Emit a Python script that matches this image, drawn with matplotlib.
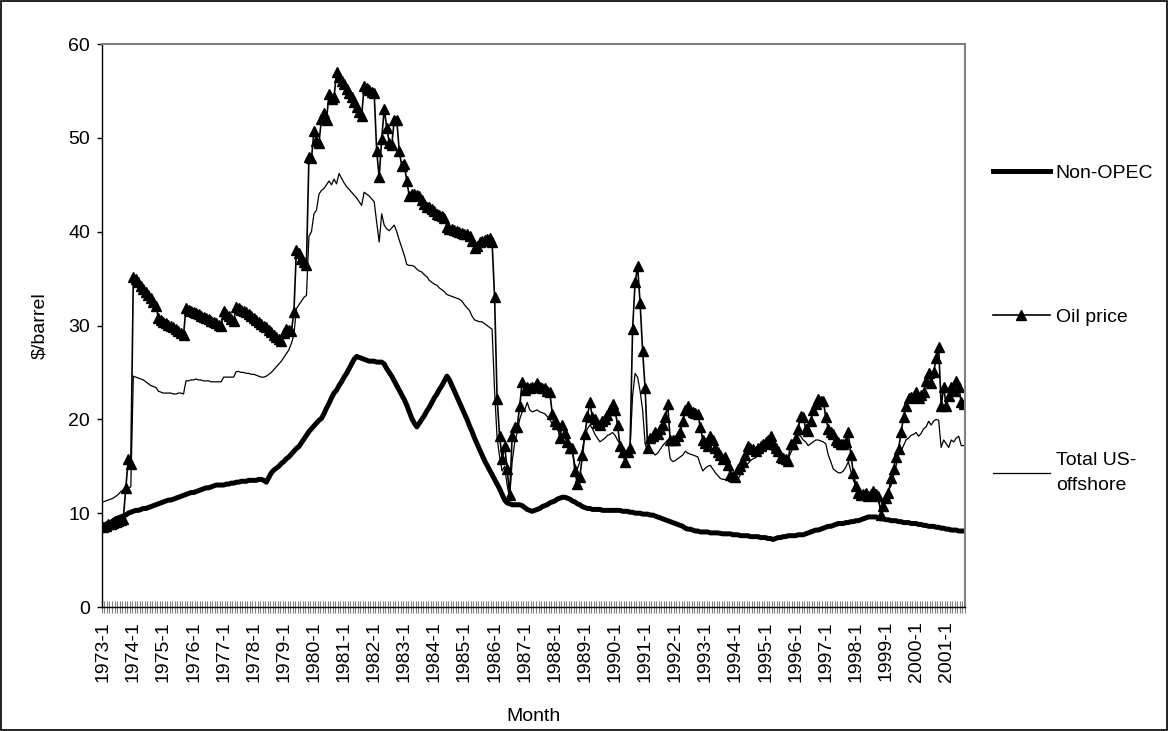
"""Oil price vs. non-OPEC and US offshore costs, monthly 1973-2001."""

import numpy as np
import matplotlib

matplotlib.use("Agg")
import matplotlib.pyplot as plt
from matplotlib.patches import Rectangle

FIRST_YEAR = 1973

# $/barrel, one row per year (Jan..Dec), 2001 ends in August
non_opec = [
    8.7, 8.8, 8.9, 9.0, 9.2, 9.4, 9.5, 9.6, 9.7, 9.8, 10.0, 10.1,
    10.2, 10.3, 10.3, 10.4, 10.5, 10.5, 10.6, 10.7, 10.8, 10.9, 11.0, 11.1,
    11.2, 11.3, 11.4, 11.4, 11.5, 11.6, 11.7, 11.8, 11.9, 12.0, 12.1, 12.2,
    12.2, 12.3, 12.4, 12.5, 12.6, 12.7, 12.7, 12.8, 12.9, 13.0, 13.0, 13.0,
    13.0, 13.1, 13.1, 13.2, 13.2, 13.3, 13.3, 13.4, 13.4, 13.4, 13.5, 13.5,
    13.5, 13.5, 13.6, 13.6, 13.5, 13.3, 13.8, 14.3, 14.6, 14.8, 15.0, 15.3,
    15.5, 15.8, 16.0, 16.3, 16.6, 16.9, 17.1, 17.5, 17.9, 18.3, 18.7, 19.0,
    19.3, 19.6, 19.9, 20.1, 20.6, 21.2, 21.7, 22.3, 22.8, 23.1, 23.6, 24.0,
    24.5, 24.9, 25.4, 25.9, 26.4, 26.7, 26.6, 26.5, 26.4, 26.3, 26.2, 26.2,
    26.2, 26.1, 26.1, 26.1, 25.9, 25.4, 25.0, 24.6, 24.1, 23.6, 23.1, 22.6,
    22.1, 21.5, 20.8, 20.1, 19.6, 19.2, 19.6, 20.0, 20.4, 20.9, 21.3, 21.8,
    22.3, 22.7, 23.2, 23.6, 24.1, 24.6, 24.2, 23.6, 23.0, 22.4, 21.8, 21.2,
    20.6, 20.0, 19.3, 18.7, 18.0, 17.4, 16.8, 16.2, 15.6, 15.1, 14.6, 14.1,
    13.6, 13.1, 12.6, 12.0, 11.4, 11.1, 11.0, 10.9, 10.9, 10.9, 10.9, 10.8,
    10.6, 10.4, 10.3, 10.2, 10.3, 10.4, 10.5, 10.7, 10.8, 10.9, 11.1, 11.2,
    11.3, 11.5, 11.6, 11.7, 11.7, 11.6, 11.5, 11.3, 11.2, 11.0, 10.9, 10.7,
    10.6, 10.5, 10.5, 10.4, 10.4, 10.4, 10.4, 10.3, 10.3, 10.3, 10.3, 10.3,
    10.3, 10.3, 10.3, 10.2, 10.2, 10.2, 10.1, 10.1, 10.0, 10.0, 10.0, 9.9,
    9.9, 9.9, 9.8, 9.8, 9.7, 9.6, 9.5, 9.4, 9.3, 9.2, 9.1, 9.0,
    8.9, 8.8, 8.7, 8.6, 8.4, 8.3, 8.3, 8.2, 8.1, 8.1, 8.0, 8.0,
    8.0, 8.0, 7.9, 7.9, 7.9, 7.9, 7.85, 7.8, 7.8, 7.8, 7.8, 7.7,
    7.7, 7.7, 7.6, 7.6, 7.6, 7.6, 7.5, 7.5, 7.5, 7.5, 7.4, 7.4,
    7.4, 7.3, 7.3, 7.2, 7.3, 7.4, 7.4, 7.5, 7.5, 7.6, 7.6, 7.6,
    7.6, 7.7, 7.7, 7.7, 7.8, 7.9, 8.0, 8.1, 8.2, 8.2, 8.3, 8.4,
    8.5, 8.6, 8.6, 8.7, 8.8, 8.9, 8.9, 8.9, 9.0, 9.0, 9.1, 9.1,
    9.2, 9.2, 9.3, 9.4, 9.5, 9.6, 9.6, 9.6, 9.6, 9.5, 9.4, 9.4,
    9.3, 9.3, 9.2, 9.2, 9.2, 9.1, 9.1, 9.0, 9.0, 9.0, 8.9, 8.9,
    8.9, 8.8, 8.8, 8.7, 8.7, 8.6, 8.6, 8.6, 8.5, 8.5, 8.4, 8.4,
    8.3, 8.3, 8.2, 8.2, 8.2, 8.1, 8.1, 8.1,
]

oil_price = [
    8.5, 8.6, 8.8, 8.9, 9.0, 9.1, 9.2, 9.3, 9.4, 12.7, 15.8, 15.2,
    35.2, 35.0, 34.6, 34.2, 33.9, 33.6, 33.2, 32.9, 32.5, 32.1, 30.8, 30.6,
    30.4, 30.3, 30.1, 29.9, 29.8, 29.6, 29.4, 29.2, 29.0, 31.9, 31.7, 31.5,
    31.4, 31.3, 31.2, 31.0, 30.9, 30.8, 30.7, 30.5, 30.4, 30.3, 30.1, 30.0,
    31.5, 31.2, 31.0, 30.7, 30.5, 32.0, 31.9, 31.7, 31.5, 31.4, 31.2, 31.0,
    30.8, 30.6, 30.4, 30.2, 30.0, 29.8, 29.5, 29.3, 29.0, 28.8, 28.6, 28.4,
    29.2, 29.6, 29.5, 29.4, 31.4, 38.1, 37.7, 37.1, 36.8, 36.5, 48.0, 47.8,
    50.7, 49.7, 49.5, 52.0, 52.7, 51.9, 54.7, 54.1, 54.3, 57.0, 56.5, 56.1,
    55.7, 55.2, 54.8, 54.3, 53.8, 53.3, 52.8, 52.3, 55.5, 55.3, 55.1, 54.9,
    54.8, 48.6, 45.8, 49.9, 53.1, 51.1, 49.5, 49.2, 51.9, 51.9, 48.6, 47.0,
    47.2, 45.4, 43.8, 44.0, 44.0, 43.9, 43.8, 43.4, 43.0, 42.6, 42.6, 42.4,
    42.2, 41.9, 41.8, 41.7, 41.5, 40.5, 40.3, 40.3, 40.2, 40.1, 40.0, 39.9,
    39.8, 39.7, 39.5, 39.0, 38.3, 38.5, 38.9, 39.0, 39.1, 39.2, 39.3, 38.9,
    33.0, 22.2, 18.2, 15.8, 17.2, 14.7, 11.9, 18.2, 19.2, 19.2, 21.4, 24.0,
    23.1, 23.4, 23.3, 23.5, 23.4, 23.9, 23.5, 23.3, 23.3, 23.0, 22.9, 20.6,
    19.8, 19.5, 18.0, 19.4, 18.5, 17.6, 17.0, 17.0, 14.5, 13.1, 13.9, 16.2,
    18.4, 20.4, 21.8, 20.2, 20.0, 19.6, 19.4, 19.8, 20.0, 20.5, 21.0, 21.6,
    21.0, 19.4, 17.2, 16.5, 15.5, 16.5, 17.0, 29.6, 34.6, 36.3, 32.4, 27.3,
    23.3, 17.0, 18.0, 18.2, 18.6, 18.4, 19.0, 19.4, 20.2, 21.6, 17.8, 17.8,
    17.8, 18.2, 18.6, 19.8, 21.0, 21.4, 21.0, 20.8, 20.7, 20.6, 19.2, 17.8,
    17.5, 17.2, 18.2, 17.8, 17.0, 16.5, 16.2, 15.8, 16.0, 15.1, 14.1, 14.0,
    13.9, 14.7, 15.0, 15.5, 16.2, 17.2, 17.0, 16.8, 16.6, 17.0, 17.2, 17.4,
    17.6, 17.8, 18.2, 17.4, 17.0, 16.6, 16.0, 15.9, 15.8, 15.6, 17.4, 17.4,
    18.0, 19.0, 20.4, 20.2, 19.0, 18.8, 19.8, 21.0, 21.6, 22.2, 22.0, 22.0,
    20.2, 19.0, 18.6, 18.4, 17.8, 17.6, 17.4, 17.4, 17.6, 18.6, 16.2, 14.3,
    12.9, 12.2, 11.9, 12.0, 12.2, 11.8, 12.0, 12.4, 12.0, 11.8, 9.8, 10.8,
    11.6, 12.1, 13.7, 14.7, 16.0, 16.8, 18.6, 20.2, 21.4, 22.3, 22.4, 22.5,
    22.9, 22.3, 22.6, 22.9, 24.1, 24.9, 23.9, 25.0, 26.5, 27.7, 21.4, 23.5,
    21.4, 22.5, 23.5, 23.0, 24.1, 23.5, 21.8, 21.6,
]

us_offshore = [
    11.2, 11.3, 11.4, 11.5, 11.6, 11.8, 12.0, 12.3, 12.5, 12.6, 12.7, 12.8,
    24.6, 24.5, 24.4, 24.3, 24.2, 24.0, 23.8, 23.6, 23.5, 23.4, 23.0, 22.9,
    22.8, 22.8, 22.8, 22.8, 22.7, 22.7, 22.8, 22.8, 22.7, 24.1, 24.1, 24.2,
    24.2, 24.3, 24.2, 24.2, 24.1, 24.1, 24.1, 24.0, 24.0, 24.0, 24.0, 24.0,
    24.5, 24.5, 24.5, 24.5, 24.5, 25.1, 25.1, 25.0, 25.0, 24.9, 24.9, 24.8,
    24.8, 24.7, 24.6, 24.5, 24.5, 24.6, 24.8, 25.0, 25.3, 25.6, 25.9, 26.2,
    26.6, 27.0, 27.4, 28.1, 29.0, 31.8, 32.2, 32.6, 33.0, 33.2, 39.5, 40.0,
    41.9, 42.3, 44.0, 44.4, 44.6, 45.0, 45.4, 45.0, 45.6, 45.1, 46.2, 45.7,
    45.2, 44.8, 44.5, 44.2, 43.9, 43.6, 43.2, 42.8, 44.2, 44.0, 43.8, 43.5,
    43.2, 41.0, 38.9, 41.9, 40.7, 40.3, 40.1, 40.4, 40.7, 40.0, 39.1, 38.3,
    37.5, 36.5, 36.4, 36.4, 36.3, 36.0, 35.8, 35.7, 35.4, 35.2, 34.8, 34.6,
    34.4, 34.3, 34.0, 33.8, 33.6, 33.3, 33.2, 33.1, 33.0, 32.9, 32.8, 32.6,
    32.2, 31.9, 31.6, 31.0, 30.6, 30.5, 30.4, 30.4, 30.2, 30.0, 29.8, 29.6,
    23.0, 18.0, 16.0, 14.5, 15.0, 13.0, 11.6, 15.5, 17.5, 18.6, 20.0, 20.8,
    21.0, 21.8, 21.0, 20.8, 20.9, 21.0, 20.8, 20.7, 20.6, 20.3, 20.0, 19.5,
    19.2, 19.0, 18.7, 18.3, 18.0, 17.7, 17.4, 16.4, 15.2, 14.7, 15.5, 16.8,
    18.3, 19.0, 19.4, 19.0, 18.4, 18.0, 17.6, 17.8, 18.0, 18.3, 18.4, 18.6,
    18.3, 17.8, 17.4, 16.6, 16.4, 16.6, 17.0, 22.5, 24.9, 24.5, 23.0, 21.0,
    17.4, 16.6, 16.7, 16.5, 16.2, 16.4, 16.8, 17.2, 17.5, 17.8, 15.8, 15.5,
    15.6, 15.8, 16.0, 16.2, 16.6, 16.4, 16.3, 16.2, 16.1, 16.0, 15.2, 14.5,
    14.8, 15.0, 15.1, 14.7, 14.3, 14.0, 13.7, 13.6, 13.6, 13.5, 13.3, 13.3,
    13.4, 13.6, 14.1, 14.6, 15.1, 15.3, 15.6, 15.8, 15.9, 16.2, 16.5, 16.8,
    17.0, 17.2, 16.8, 16.5, 16.3, 16.2, 16.0, 15.6, 15.5, 15.8, 16.4, 17.0,
    17.8, 18.4, 18.2, 17.8, 17.6, 17.2, 17.4, 17.6, 17.8, 17.8, 17.7, 17.6,
    17.4, 16.2, 15.5, 14.7, 14.5, 14.3, 14.3, 14.5, 14.9, 15.5, 14.5, 13.5,
    12.9, 12.3, 12.1, 11.9, 11.9, 11.8, 11.9, 12.1, 11.8, 11.2, 10.5, 10.6,
    11.5, 12.5, 12.9, 13.9, 15.0, 16.2, 16.6, 17.2, 17.8, 18.0, 18.3, 18.4,
    18.6, 18.2, 18.5, 19.0, 19.2, 19.8, 19.4, 19.8, 20.0, 19.9, 17.0, 17.8,
    17.4, 17.0, 17.8, 17.6, 18.0, 18.2, 17.2, 17.2,
]

series_names = ["Non-OPEC", "Oil price", "Total US-\noffshore"]

plt.rcParams["font.family"] = ["Liberation Sans", "DejaVu Sans"]
FONT_SIZE = 14

n_months = len(oil_price)
month_labels = [f"{FIRST_YEAR + i // 12}-{i % 12 + 1}" for i in range(n_months)]
x = np.arange(n_months)

fig = plt.figure(figsize=(11.68, 7.31), dpi=100)
ax = fig.add_axes([0.0873, 0.1696, 0.7389, 0.7702])

ax.plot(x, non_opec, color="black", lw=3.6, label=series_names[0])
ax.plot(x, oil_price, color="black", lw=1.2, marker="^", ms=6.5,
        label=series_names[1])
ax.plot(x, us_offshore, color="black", lw=0.9, label=series_names[2])

ax.set_xlim(-0.5, n_months - 0.5)
ax.set_ylim(0, 60)
ax.set_yticks(range(0, 61, 10))
ax.tick_params(axis="y", direction="out", length=3.6, width=1, pad=5,
               labelsize=FONT_SIZE)

label_pos = x[::12]
ax.set_xticks(label_pos)
ax.set_xticklabels([month_labels[i] for i in label_pos], rotation=90)
ax.tick_params(axis="x", which="major", length=0, pad=10, labelsize=FONT_SIZE)
ax.set_xticks(np.arange(n_months + 1) - 0.5, minor=True)
ax.tick_params(axis="x", which="minor", direction="inout", length=9,
               width=0.8, color="#808080")

for side in ("top", "right"):
    ax.spines[side].set_color("#808080")
    ax.spines[side].set_linewidth(1.5)
for side in ("left", "bottom"):
    ax.spines[side].set_color("black")
    ax.spines[side].set_linewidth(1.0)

ax.set_ylabel(r"\$/barrel", fontsize=FONT_SIZE, labelpad=14)
ax.set_xlabel("Month", fontsize=FONT_SIZE, labelpad=19)

leg = ax.legend(loc="upper left", bbox_to_anchor=(1.032, 0.787),
                frameon=False, fontsize=FONT_SIZE, handlelength=2.95,
                handletextpad=0.3, labelspacing=6.5, borderpad=0,
                borderaxespad=0)
for text in leg.get_texts():
    text.set_linespacing(1.6)

fig.patches.append(Rectangle((0.001, 0.0015), 0.998, 0.997,
                             transform=fig.transFigure, fill=False,
                             edgecolor="black", linewidth=1.2))

fig.savefig("out.png", dpi=100)
